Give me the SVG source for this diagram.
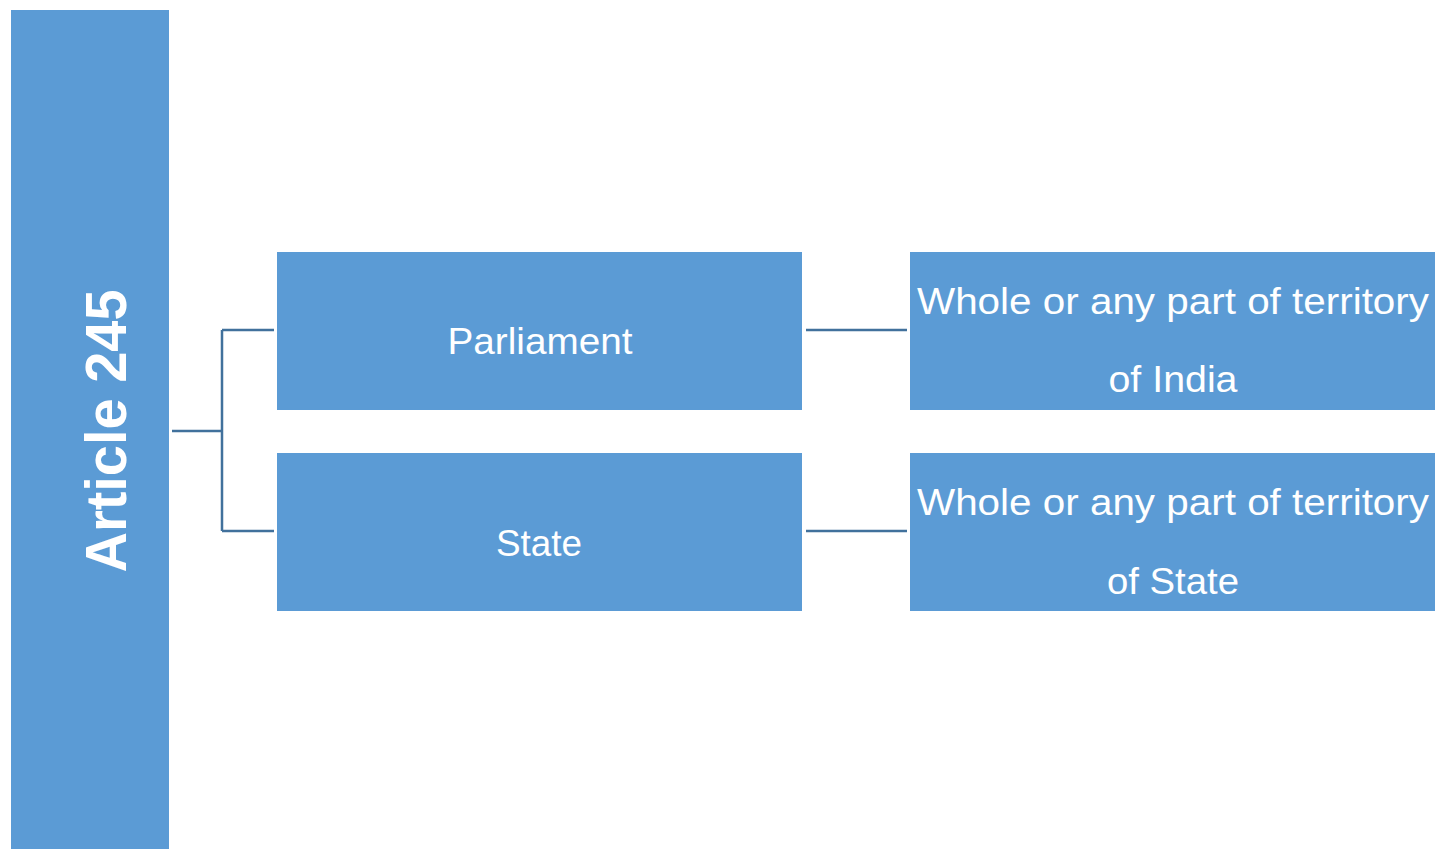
<svg xmlns="http://www.w3.org/2000/svg" width="1437" height="849" viewBox="0 0 1437 849">
<style>
.box{fill:#5B9BD5;}
.t{fill:#fff;font-family:"Liberation Sans","Open Sans",sans-serif;font-size:37px;text-anchor:middle;}
.big{fill:#fff;font-family:"Liberation Sans","Open Sans",sans-serif;font-size:57px;font-weight:bold;text-anchor:middle;}
.c{stroke:#41719C;stroke-width:2.5;fill:none;}
</style>
<rect width="1437" height="849" fill="#fff"/>
<g id="connectors">
<path class="c" d="M172 431 H222 M222 330 V531 M222 330 H274 M222 531 H274"/>
<path class="c" d="M806 330 H907 M806 531 H907"/>
</g>
<g id="article245">
<rect class="box" x="11" y="10" width="158" height="839"/>
<text class="big" transform="translate(126 431) rotate(-90)" x="0" y="0" textLength="283" lengthAdjust="spacingAndGlyphs">Article 245</text>
</g>
<g id="parliament">
<rect class="box" x="277" y="252" width="525" height="158"/>
<text class="t" x="540" y="354" textLength="185" lengthAdjust="spacingAndGlyphs">Parliament</text>
</g>
<g id="state">
<rect class="box" x="277" y="453" width="525" height="158"/>
<text class="t" x="539" y="556" textLength="86" lengthAdjust="spacingAndGlyphs">State</text>
</g>
<g id="india-territory">
<rect class="box" x="910" y="252" width="525" height="158"/>
<text class="t" x="1173" y="314" textLength="512" lengthAdjust="spacingAndGlyphs">Whole or any part of territory</text>
<text class="t" x="1173" y="392" textLength="129" lengthAdjust="spacingAndGlyphs">of India</text>
</g>
<g id="state-territory">
<rect class="box" x="910" y="453" width="525" height="158"/>
<text class="t" x="1173" y="515" textLength="512" lengthAdjust="spacingAndGlyphs">Whole or any part of territory</text>
<text class="t" x="1173" y="594" textLength="132" lengthAdjust="spacingAndGlyphs">of State</text>
</g>
</svg>
